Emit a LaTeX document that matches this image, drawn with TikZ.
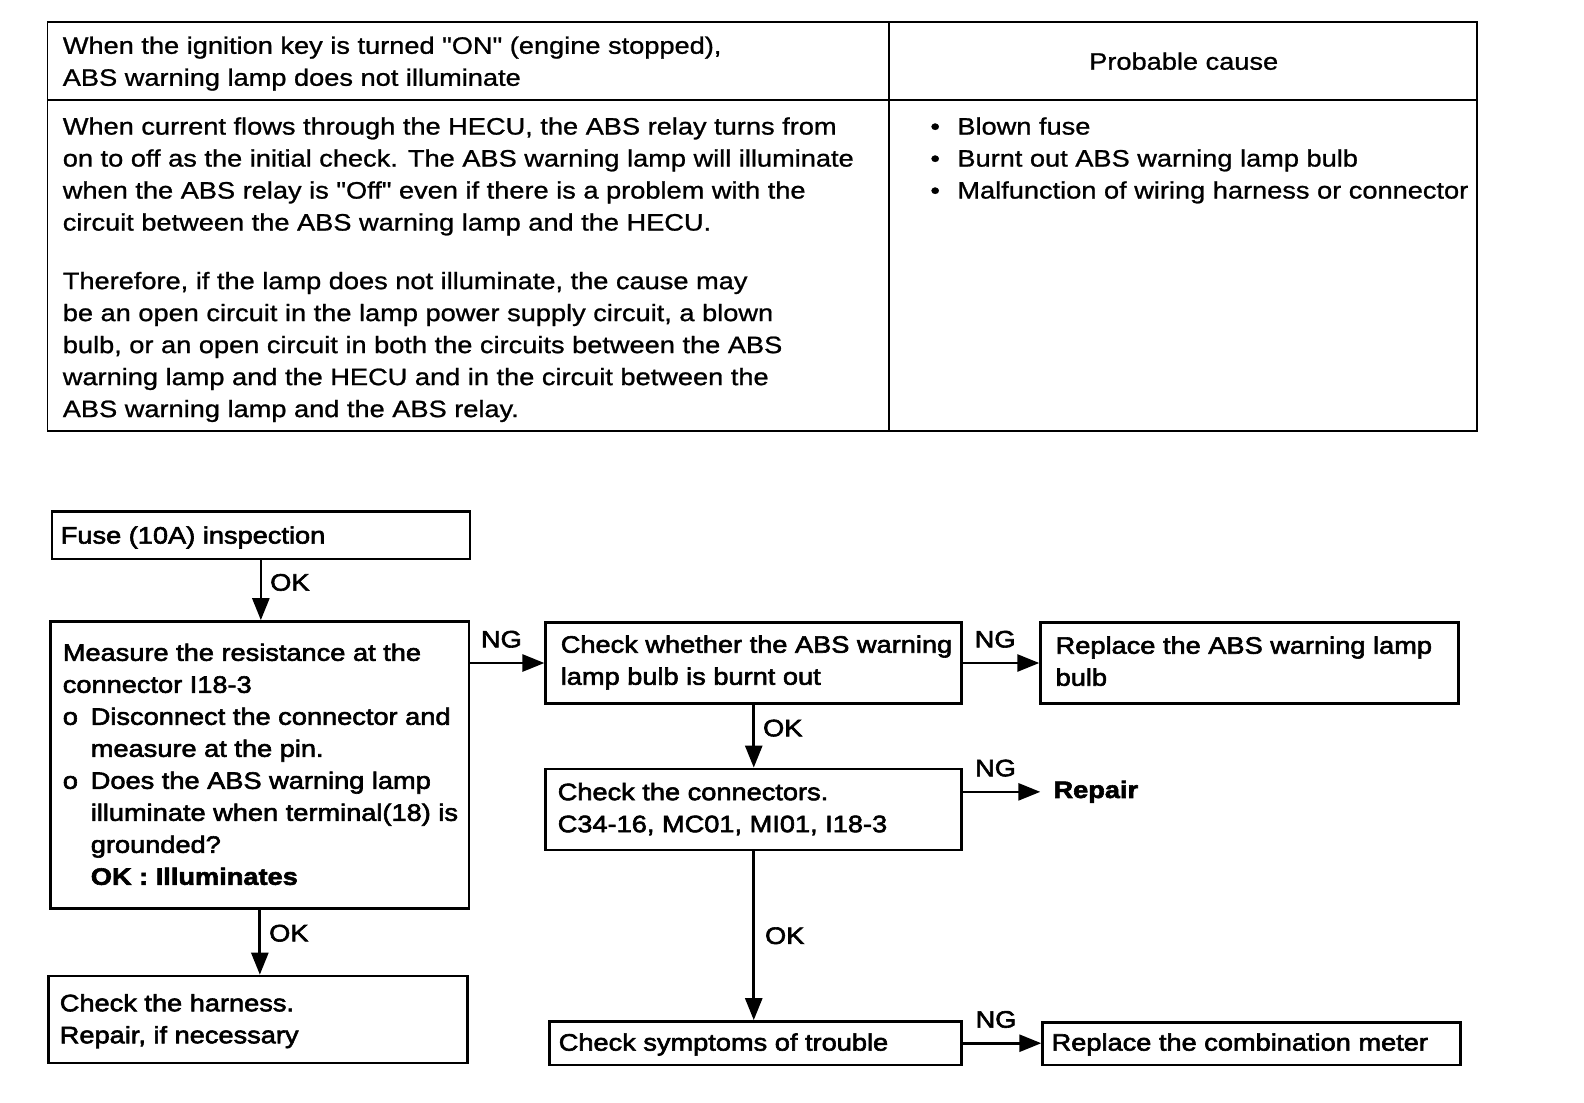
\documentclass[tikz,border=0pt]{standalone}
\usepackage{fontspec}
\setmainfont[FakeStretch=1.145,FakeBold=1,Ligatures=TeXOff]{Liberation Sans}
\newfontfamily\flowfont[FakeStretch=1.145,FakeBold=2.5,Ligatures=TeXOff]{Liberation Sans}
\usetikzlibrary{arrows.meta}
\begin{document}
\begin{tikzpicture}[x=1.01pt,y=-1.01pt,
  tbl/.style={line width=1.9pt},
  txt/.style={anchor=north west, inner sep=0pt, align=left,
    font=\fontsize{23.75}{32}\selectfont, execute at begin node={\rule{0pt}{22.22pt}}},
  ftxt/.style={txt, font=\flowfont\fontsize{23.75}{32}\selectfont},
  box/.style={draw, line width=2.7pt, anchor=north west, inner sep=0pt},
  arr/.style={line width=2.7pt, -{Triangle[length=22pt,width=17pt]}},
  okl/.style={anchor=west, xshift=8pt, inner sep=0pt, font=\flowfont\fontsize{23.75}{32}\selectfont},
  ngl/.style={anchor=south, yshift=14pt, inner sep=0pt, pos=0.42, font=\flowfont\fontsize{23.75}{32}\selectfont}]
\useasboundingbox (0,0) rectangle (1568.3,1091.1);

% ---------- table ----------
\draw[tbl] (47,22) rectangle (1462,427);
\draw[tbl] (880,22) -- (880,427);
\draw[tbl] (47,99) -- (1462,99);

\node[txt] (hleft) at (62,36) {When the ignition key is turned "ON" (engine stopped),\\ABS warning lamp does not illuminate};
\node[anchor=base, inner sep=0pt, font=\fontsize{23.75}{32}\selectfont] (hright) at (1172,69) {Probable cause};

\node[txt] (para1) at (62,116) {When current flows through the HECU, the ABS relay turns from\\
on to off as the initial check. The ABS warning lamp will illuminate\\
when the ABS relay is "Off" even if there is a problem with the\\
circuit between the ABS warning lamp and the HECU.};
\node[txt] (para2) at (62,269) {Therefore, if the lamp does not illuminate, the cause may\\
be an open circuit in the lamp power supply circuit, a blown\\
bulb, or an open circuit in both the circuits between the ABS\\
warning lamp and the HECU and in the circuit between the\\
ABS warning lamp and the ABS relay.};
\node[txt] (causes) at (921,116) {\makebox[27pt][l]{•}Blown fuse\\
\makebox[27pt][l]{•}Burnt out ABS warning lamp bulb\\
\makebox[27pt][l]{•}Malfunction of wiring harness or connector};

% ---------- flowchart boxes ----------
\node[box, minimum width=418pt, minimum height=47.5pt] (fuse) at (50,505) {};
\node[box, minimum width=418pt, minimum height=287pt] (meas) at (49,614) {};
\node[box, minimum width=419pt, minimum height=87pt] (harn) at (47,965) {};
\node[box, minimum width=416pt, minimum height=81pt] (bulb) at (539,615) {};
\node[box, minimum width=418pt, minimum height=81pt] (rbulb) at (1029,615) {};
\node[box, minimum width=416pt, minimum height=81pt] (conn) at (539,760) {};
\node[box, minimum width=412pt, minimum height=43.5pt] (symp) at (543,1010) {};
\node[box, minimum width=418pt, minimum height=42.5pt] (combo) at (1031,1011) {};
\node[anchor=west, inner xsep=13pt, inner ysep=0pt, font=\flowfont\fontsize{23.75}{32}\selectfont\bfseries] (repair) at (1030,784) {Repair};

% ---------- box texts ----------
\node[ftxt] (fuse-t) at (60,516) {Fuse (10A) inspection};
\node[ftxt] (meas-t) at (62,637) {Measure the resistance at the\\
connector I18-3\\
\makebox[28pt][l]{o}Disconnect the connector and\\
\hspace*{28pt}measure at the pin.\\
\makebox[28pt][l]{o}Does the ABS warning lamp\\
\hspace*{28pt}illuminate when terminal(18) is\\
\hspace*{28pt}grounded?\\
\hspace*{28pt}\textbf{OK : Illuminates}};
\node[ftxt] (harn-t) at (59,984) {Check the harness.\\Repair, if necessary};
\node[ftxt] (bulb-t) at (555,629) {Check whether the ABS warning\\lamp bulb is burnt out};
\node[ftxt] (rbulb-t) at (1045,630) {Replace the ABS warning lamp\\bulb};
\node[ftxt] (conn-t) at (552,775) {Check the connectors.\\C34-16, MC01, MI01, I18-3};
\node[ftxt] (symp-t) at (553,1018) {Check symptoms of trouble};
\node[ftxt] (combo-t) at (1041,1018) {Replace the combination meter};

% ---------- connectors ----------
\draw[arr] (fuse.south) -- node[okl, pos=0.37] {OK} (fuse.south |- meas.north);
\draw[arr] (meas.south) -- node[okl, pos=0.36] {OK} (meas.south |- harn.north);
\draw[arr] (bulb.south) -- node[okl, pos=0.37] {OK} (bulb.south |- conn.north);
\draw[arr] (conn.south) -- node[okl, pos=0.5, xshift=2pt] {OK} (conn.south |- symp.north);
\draw[arr] (meas.east |- bulb.west) -- node[ngl] {NG} (bulb.west);
\draw[arr] (bulb.east) -- node[ngl] {NG} (bulb.east -| rbulb.west);
\draw[arr] (conn.east |- repair.west) -- node[ngl] {NG} (repair.west);
\draw[arr] (symp.east) -- node[ngl] {NG} (symp.east -| combo.west);
\end{tikzpicture}
\end{document}
